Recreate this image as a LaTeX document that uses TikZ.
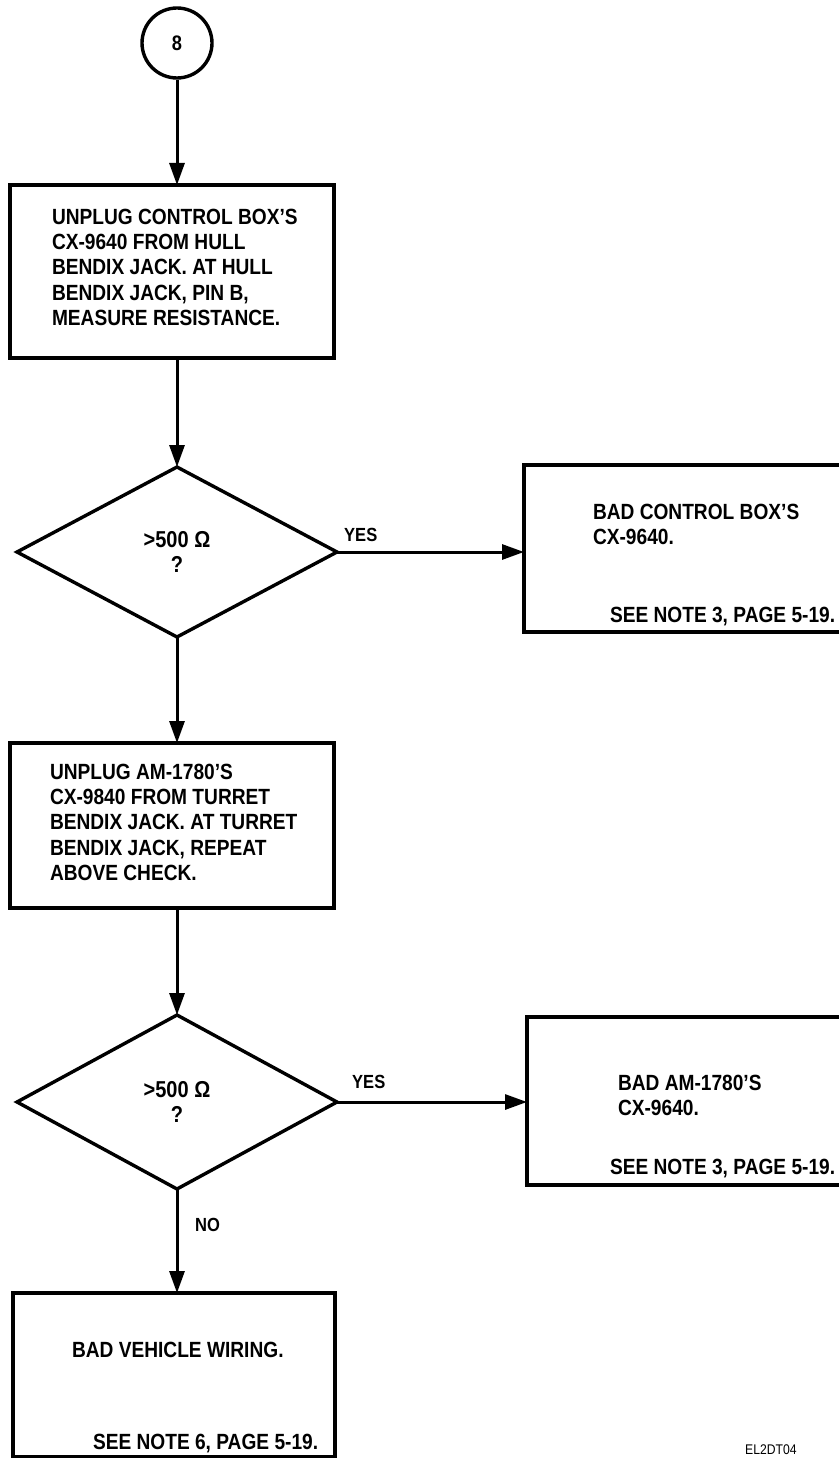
\documentclass[tikz,border=0pt]{standalone}
\usepackage{fontspec}
\setmainfont{Liberation Sans}[FakeStretch=0.87]
\usetikzlibrary{shapes.geometric,arrows.meta}
\begin{document}
\begin{tikzpicture}[x=1pt,y=-1pt,
  box/.style={draw, line width=3.4pt, rectangle, inner sep=0pt, outer sep=0pt, anchor=north west},
  dia/.style={draw, line width=3.4pt, diamond, inner sep=0pt, outer sep=0pt, align=center,
     font=\fontsize{23}{25}\selectfont\bfseries},
  txt/.style={inner sep=0pt, outer sep=0pt, anchor=north west, align=left,
     font=\fontsize{22}{25.3}\selectfont\bfseries},
  lbl/.style={inner sep=0pt, anchor=west, font=\fontsize{19}{20}\selectfont\bfseries},
  conn/.style={line width=3pt, -{Triangle[length=22pt,width=15pt]}},
]
\useasboundingbox (0,0) rectangle (838,1458);

% connector circle
\node[draw, circle, line width=3.4pt, minimum size=70pt, inner sep=0pt,
      font=\fontsize{21}{22}\selectfont\bfseries] (c8) at (177,43) {8};

% box 1
\node[box, minimum width=324pt, minimum height=173pt] (b1) at (10,185) {};
\node[txt] (t1) at (52,209) {UNPLUG CONTROL BOX'S\\CX-9640 FROM HULL\\BENDIX JACK. AT HULL\\BENDIX JACK, PIN B,\\MEASURE RESISTANCE.};

% decision 1
\node[dia, minimum width=320pt, minimum height=170pt] (d1) at (177,552) {>500 Ω\\?};

% result box 1
\node[box, minimum width=330pt, minimum height=167pt] (r1) at (524,465) {};
\node[txt] (t2) at (593,504) {BAD CONTROL BOX'S\\CX-9640.};
\node[txt] (t3) at (610,607) {SEE NOTE 3, PAGE 5-19.};
\node[lbl] (yes1) at (344,535) {YES};

% box 2
\node[box, minimum width=324pt, minimum height=165pt] (b2) at (10,743) {};
\node[txt] (t4) at (50,764) {UNPLUG AM-1780'S\\CX-9840 FROM TURRET\\BENDIX JACK. AT TURRET\\BENDIX JACK, REPEAT\\ABOVE CHECK.};

% decision 2
\node[dia, minimum width=320pt, minimum height=174pt] (d2) at (177,1102) {>500 Ω\\?};

% result box 2
\node[box, minimum width=330pt, minimum height=168pt] (r2) at (527,1017) {};
\node[txt] (t5) at (618,1075) {BAD AM-1780'S\\CX-9640.};
\node[txt] (t6) at (610,1159) {SEE NOTE 3, PAGE 5-19.};
\node[lbl] (yes2) at (352,1082) {YES};
\node[lbl] (no) at (195,1225) {NO};

% box 3
\node[box, minimum width=322pt, minimum height=164pt] (b3) at (13,1293) {};
\node[txt] (t7) at (72,1342) {BAD VEHICLE WIRING.};
\node[txt] (t8) at (93,1434) {SEE NOTE 6, PAGE 5-19.};

% figure code
\node[inner sep=0pt, anchor=north west, font=\fontsize{14}{16}\selectfont] (code) at (745,1445) {EL2DT04};

% connectors
\draw[conn] (c8.south) -- (c8.south |- b1.north);
\draw[conn] (d1.north |- b1.south) -- (d1.north);
\draw[conn] (d1.east) -- (d1.east -| r1.west);
\draw[conn] (d1.south) -- (d1.south |- b2.north);
\draw[conn] (d2.north |- b2.south) -- (d2.north);
\draw[conn] (d2.east) -- (d2.east -| r2.west);
\draw[conn] (d2.south) -- (d2.south |- b3.north);
\end{tikzpicture}
\end{document}
